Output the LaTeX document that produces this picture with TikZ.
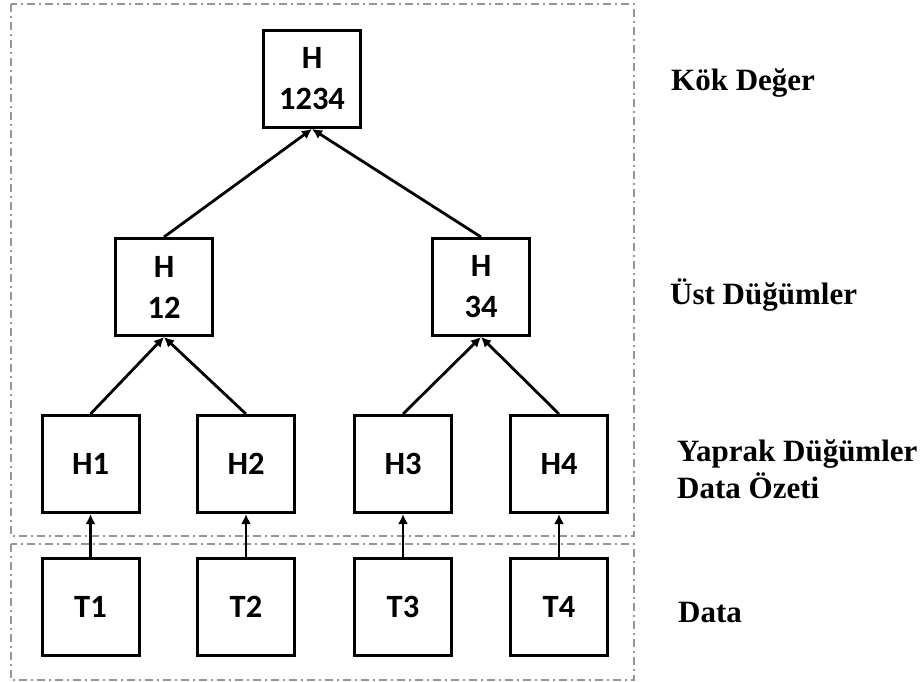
\documentclass[tikz,border=0pt]{standalone}
\usepackage{fontspec}
\setmainfont{Liberation Serif}
\newfontfamily\boxfont{Carlito}
\usetikzlibrary{arrows.meta}
\definecolor{frame}{RGB}{150,150,150}
\tikzset{
  hbox/.style={draw=black, line width=3pt, fill=white, minimum width=97pt, minimum height=97pt, inner sep=0pt, align=center, font=\boxfont\bfseries\fontsize{32.5}{41}\selectfont},
  arr/.style={line width=2.8pt, -{Latex[length=10pt,width=10pt]}},
  region/.style={draw=frame, line width=1.6pt, dash pattern=on 8pt off 4pt on 2pt off 4pt},
  lbl/.style={anchor=base west, inner sep=0pt, font=\bfseries\fontsize{31}{37}\selectfont}
}
\begin{document}
\begin{tikzpicture}[x=1pt,y=-1pt]
\useasboundingbox (0,0) rectangle (923,682);
\draw[region] (11,4) rectangle (634,536);
\draw[region] (11,544) rectangle (634,680);

\node[hbox] (r) at (312,79) {H\\1234};
\node[hbox] (a) at (164,287) {H\\12};
\node[hbox] (b) at (481,287) {H\\34};
\node[hbox] (h1) at (90.5,464) {H1};
\node[hbox] (h2) at (246,464) {H2};
\node[hbox] (h3) at (403,464) {H3};
\node[hbox] (h4) at (559,464) {H4};
\node[hbox] (t1) at (90.5,607) {T1};
\node[hbox] (t2) at (246,607) {T2};
\node[hbox] (t3) at (403,607) {T3};
\node[hbox] (t4) at (559,607) {T4};

\draw[arr] (a.north) -- (r.south);
\draw[arr] (b.north) -- (r.south);
\draw[arr] (h1.north) -- (a.south);
\draw[arr] (h2.north) -- (a.south);
\draw[arr] (h3.north) -- (b.south);
\draw[arr] (h4.north) -- (b.south);
\draw[arr] (t1.north) -- (h1.south);
\draw[arr] (t2.north) -- (h2.south);
\draw[arr] (t3.north) -- (h3.south);
\draw[arr] (t4.north) -- (h4.south);

\node[lbl] (l1) at (671,91) {Kök Değer};
\node[lbl] (l2) at (670,304) {Üst Düğümler};
\node[lbl] (l3) at (677,461) {Yaprak Düğümler};
\node[lbl] (l4) at (677,498) {Data Özeti};
\node[lbl] (l5) at (678,622) {Data};
\end{tikzpicture}
\end{document}
